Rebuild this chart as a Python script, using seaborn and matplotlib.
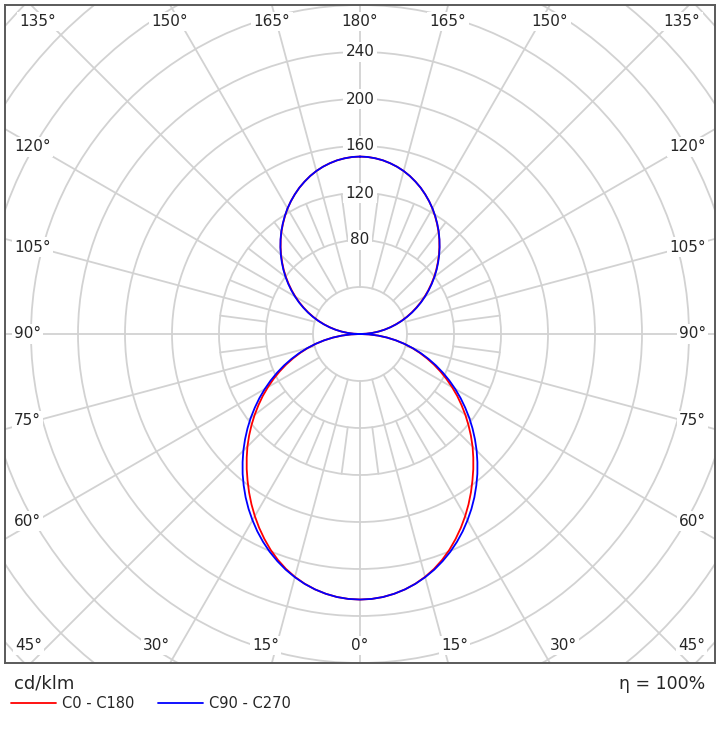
import numpy as np
import pandas as pd
import seaborn as sns
import matplotlib.pyplot as plt
from matplotlib.patches import Circle
from matplotlib.lines import Line2D

# gamma angles (deg), 2.5 deg steps, and luminous intensity in cd/klm
gamma = [i * 2.5 for i in range(73)]
c0_c180 = [226, 225.7, 224.7, 223.0, 220.7, 217.7, 214.0, 209.6, 204.5, 198.8,
           192.5, 185.9, 179.0, 171.9, 164.6, 157.2, 150.0, 142.7, 135.5, 128.0,
           120.5, 113.0, 105.5, 98.1, 90.5, 83.0, 75.5, 68.1, 60.6, 53.3,
           46.0, 38.5, 30.9, 23.2, 15.5, 7.7, 0,
           5.3, 10.5, 15.8, 21.1, 26.3, 31.6, 36.9, 42.2, 47.5, 52.8,
           58.2, 63.5, 68.8, 74.1, 79.4, 84.7, 89.8, 95.0, 100.0, 105.0,
           109.8, 114.4, 118.9, 123.3, 127.4, 131.2, 134.8, 138.0, 141.0, 143.6,
           145.8, 147.6, 149.1, 150.1, 150.8, 151]
c90_c270 = [226, 225.7, 224.7, 223.0, 220.7, 217.8, 214.3, 210.3, 205.7, 200.7,
            195.2, 189.3, 183.0, 176.5, 169.7, 162.6, 155.4, 147.9, 140.4, 132.7,
            125.0, 117.2, 109.3, 101.5, 93.6, 85.7, 77.8, 70.0, 62.1, 54.3,
            46.5, 38.7, 30.9, 23.2, 15.5, 7.7, 0,
            5.3, 10.6, 16.0, 21.3, 26.6, 31.9, 37.3, 42.6, 48.0, 53.3,
            58.7, 64.0, 69.3, 74.6, 79.9, 85.1, 90.2, 95.3, 100.3, 105.2,
            110.0, 114.6, 119.1, 123.4, 127.4, 131.2, 134.8, 138.0, 141.0, 143.6,
            145.8, 147.6, 149.1, 150.1, 150.8, 151]
ring_labels = [80, 120, 160, 200, 240]
bottom_labels = [0, 15, 30, 45]
side_labels = [60, 75, 90, 105, 120]
top_labels = [135, 150, 165, 180]

rows = []
for name, vals in [('C0 - C180', c0_c180), ('C90 - C270', c90_c270)]:
    full = [(-g, v) for g, v in zip(gamma[::-1], vals[::-1])] + [(g, v) for g, v in zip(gamma[1:], vals[1:])]
    for ang, v in full:
        t = np.radians(ang)
        rows.append({'plane': name, 'x': v * np.sin(t), 'y': -v * np.cos(t)})
df = pd.DataFrame(rows)

sns.set_style('white')
fig = plt.figure(figsize=(7.2, 7.51), dpi=100)
ax = fig.add_axes([5 / 720, 88 / 751, 710 / 720, 658 / 751])
ax.set_xlim(-302.1, 302.1)
ax.set_ylim(-280, 280)
ax.set_aspect('equal', adjustable='box')
ax.set_xticks([])
ax.set_yticks([])
for s in ax.spines.values():
    s.set_color('#5a5a5a')
    s.set_linewidth(1.4)
    s.set_visible(True)

grid_col = '#d2d2d2'
for r in range(40, 440, 40):
    ax.add_patch(Circle((0, 0), r, fill=False, ec=grid_col, lw=1.3, zorder=1))
# spokes every 15 deg from the inner ring, short extra spokes between 80 and 120
for a in np.arange(0, 360, 7.5):
    t = np.radians(a)
    if a % 15 == 0:
        r0, r1 = 40, 500
    else:
        r0, r1 = 80, 120
    ax.plot([r0 * np.sin(t), r1 * np.sin(t)], [-r0 * np.cos(t), -r1 * np.cos(t)],
            color=grid_col, lw=1.3, zorder=1)

bb = dict(boxstyle='square,pad=0.15', fc='white', ec='none')
for r in ring_labels:
    ax.text(0, r, str(r), ha='center', va='center', fontsize=11, bbox=bb, zorder=2)

def angle_text(x, y, s, ha='center'):
    ax.text(x, y, s, ha=ha, va='center', fontsize=11, bbox=bb, zorder=2)

for a in bottom_labels:
    x = min(300 * np.tan(np.radians(a)), 282)
    for sd in ([1] if a == 0 else [-1, 1]):
        angle_text(sd * x, -265, f'{a}°')
for a in top_labels:
    x = min(280 * np.tan(np.radians(180 - a)), 274)
    for sd in ([1] if a == 180 else [-1, 1]):
        angle_text(sd * x, 266, f'{a}°')
for a in side_labels:
    t = np.radians(a)
    y = -276 / np.tan(t) if a != 90 else 0
    angle_text(-294.5, y, f'{a}°', ha='left')
    angle_text(294.5, y, f'{a}°', ha='right')

sns.lineplot(data=df, x='x', y='y', hue='plane', sort=False, estimator=None,
             palette={'C0 - C180': '#ff0000', 'C90 - C270': '#0000ff'},
             lw=1.3, legend=False, ax=ax, zorder=3)
ax.set_xlabel('')
ax.set_ylabel('')

fig.text(14 / 720, 1 - 684 / 751, 'cd/klm', fontsize=13, va='center', ha='left')
fig.text(705 / 720, 1 - 684 / 751, 'η = 100%', fontsize=12.5, va='center', ha='right')
handles = [Line2D([], [], color='#ff0000', lw=1.3), Line2D([], [], color='#0000ff', lw=1.3)]
fig.legend(handles, ['C0 - C180', 'C90 - C270'], loc='center left',
           bbox_to_anchor=(11 / 720, 1 - 704 / 751), ncol=2, frameon=False,
           fontsize=10.5, handlelength=3.1, handletextpad=0.4, columnspacing=1.6,
           borderaxespad=0, borderpad=0)

fig.savefig('out.png', dpi=100)
